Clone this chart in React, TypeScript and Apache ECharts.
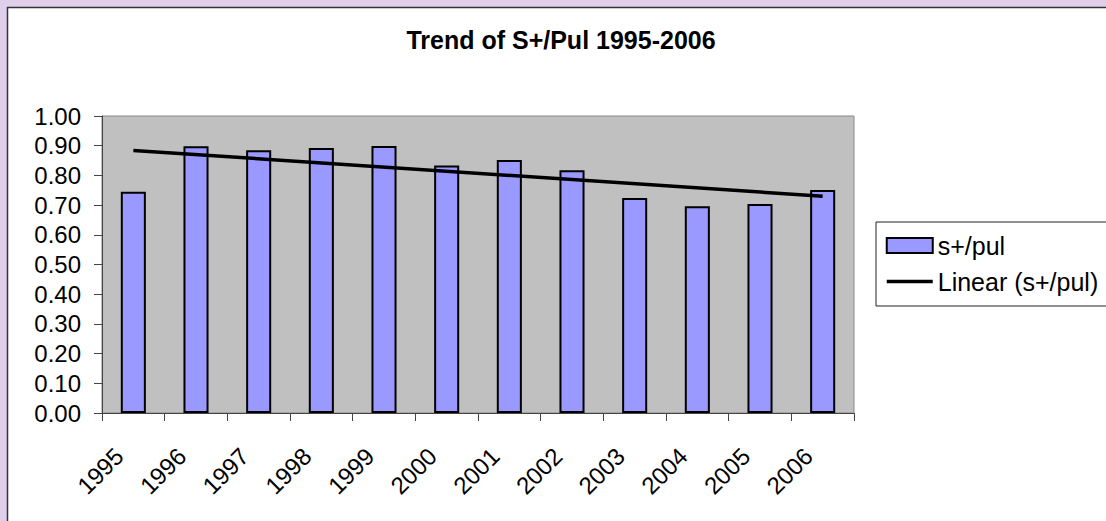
import React, { useEffect, useRef } from "react";
import * as echarts from "echarts";

const years = ["1995", "1996", "1997", "1998", "1999", "2000", "2001", "2002", "2003", "2004", "2005", "2006"];
const ratio = [0.745, 0.898, 0.885, 0.892, 0.899, 0.833, 0.852, 0.817, 0.724, 0.696, 0.704, 0.751];
// Excel linear trendline, read at its two ends (1995 and 2006)
const trend = [0.884, null, null, null, null, null, null, null, null, null, null, 0.73];
const yMin = 0;
const yMax = 1;
const yStep = 0.1;

const FONT = "'Liberation Sans', Arial, sans-serif";

export default function App() {
  const ref = useRef<HTMLDivElement>(null);
  useEffect(() => {
    if (!ref.current) return;
    const chart = echarts.init(ref.current, undefined, { renderer: "svg" });
    chart.setOption({
      animation: false,
      backgroundColor: "#ffffff",
      textStyle: { fontFamily: FONT },
      title: {
        text: "Trend of S+/Pul 1995-2006",
        left: 556,
        top: 22,
        textAlign: "center",
        textStyle: { fontFamily: FONT, fontSize: 25, fontWeight: "bold", color: "#000" },
      },
      graphic: [
        { type: "rect", shape: { x: 0, y: 0, width: 1106, height: 7 }, style: { fill: "#E0CFEA" }, silent: true },
        { type: "rect", shape: { x: 0, y: 0, width: 7, height: 521 }, style: { fill: "#E0CFEA" }, silent: true },
        { type: "line", shape: { x1: 7, y1: 7.5, x2: 1106, y2: 7.5 }, style: { stroke: "#333", lineWidth: 1.5 }, silent: true },
        { type: "line", shape: { x1: 7.5, y1: 7, x2: 7.5, y2: 521 }, style: { stroke: "#333", lineWidth: 1.5 }, silent: true },
      ],
      legend: {
        orient: "vertical",
        left: 876,
        top: 222,
        padding: [11, 30, 12, 9],
        itemWidth: 46,
        itemHeight: 15,
        itemGap: 11,
        itemTextGap: 8,
        borderColor: "#222",
        borderWidth: 1,
        backgroundColor: "#fff",
        textStyle: { fontFamily: FONT, fontSize: 25, color: "#000", lineHeight: 24 },
        data: [
          { name: "s+/pul", icon: "rect" },
          {
            name: "Linear (s+/pul)",
            itemStyle: { color: "transparent", borderWidth: 0, opacity: 0 },
            lineStyle: { color: "#000", width: 3.5 },
          },
        ],
      },
      grid: {
        left: 102,
        top: 116,
        width: 752,
        height: 297,
        show: true,
        backgroundColor: "#C0C0C0",
        borderColor: "#888",
        borderWidth: 1,
      },
      xAxis: {
        type: "category",
        data: years,
        boundaryGap: true,
        axisLine: { lineStyle: { color: "#444", width: 1 } },
        axisTick: { show: true, length: 8, lineStyle: { color: "#444" } },
        axisLabel: {
          interval: 0,
          rotate: 45,
          margin: 25,
          padding: [0, 20, 0, 0],
          fontFamily: FONT,
          fontSize: 24,
          color: "#000",
        },
      },
      yAxis: {
        type: "value",
        min: yMin,
        max: yMax,
        interval: yStep,
        splitLine: { show: false },
        axisLine: { show: true, lineStyle: { color: "#444", width: 1 } },
        axisTick: { show: true, length: 8, lineStyle: { color: "#444" } },
        axisLabel: {
          margin: 21,
          fontFamily: FONT,
          fontSize: 24,
          color: "#000",
          formatter: (v: number) => v.toFixed(2),
        },
      },
      series: [
        {
          name: "s+/pul",
          type: "bar",
          data: ratio,
          barWidth: "40%",
          itemStyle: { color: "#9999FF", borderColor: "#000", borderWidth: 2 },
        },
        {
          name: "Linear (s+/pul)",
          type: "line",
          data: trend,
          connectNulls: true,
          symbol: "none",
          lineStyle: { color: "#000", width: 3.5 },
          itemStyle: { color: "transparent" },
          z: 5,
        },
      ],
    });
    return () => chart.dispose();
  }, []);
  return (
    <div
      ref={ref}
      style={{ position: "absolute", left: 0, top: 0, width: 1106, height: 521 }}
    />
  );
}
